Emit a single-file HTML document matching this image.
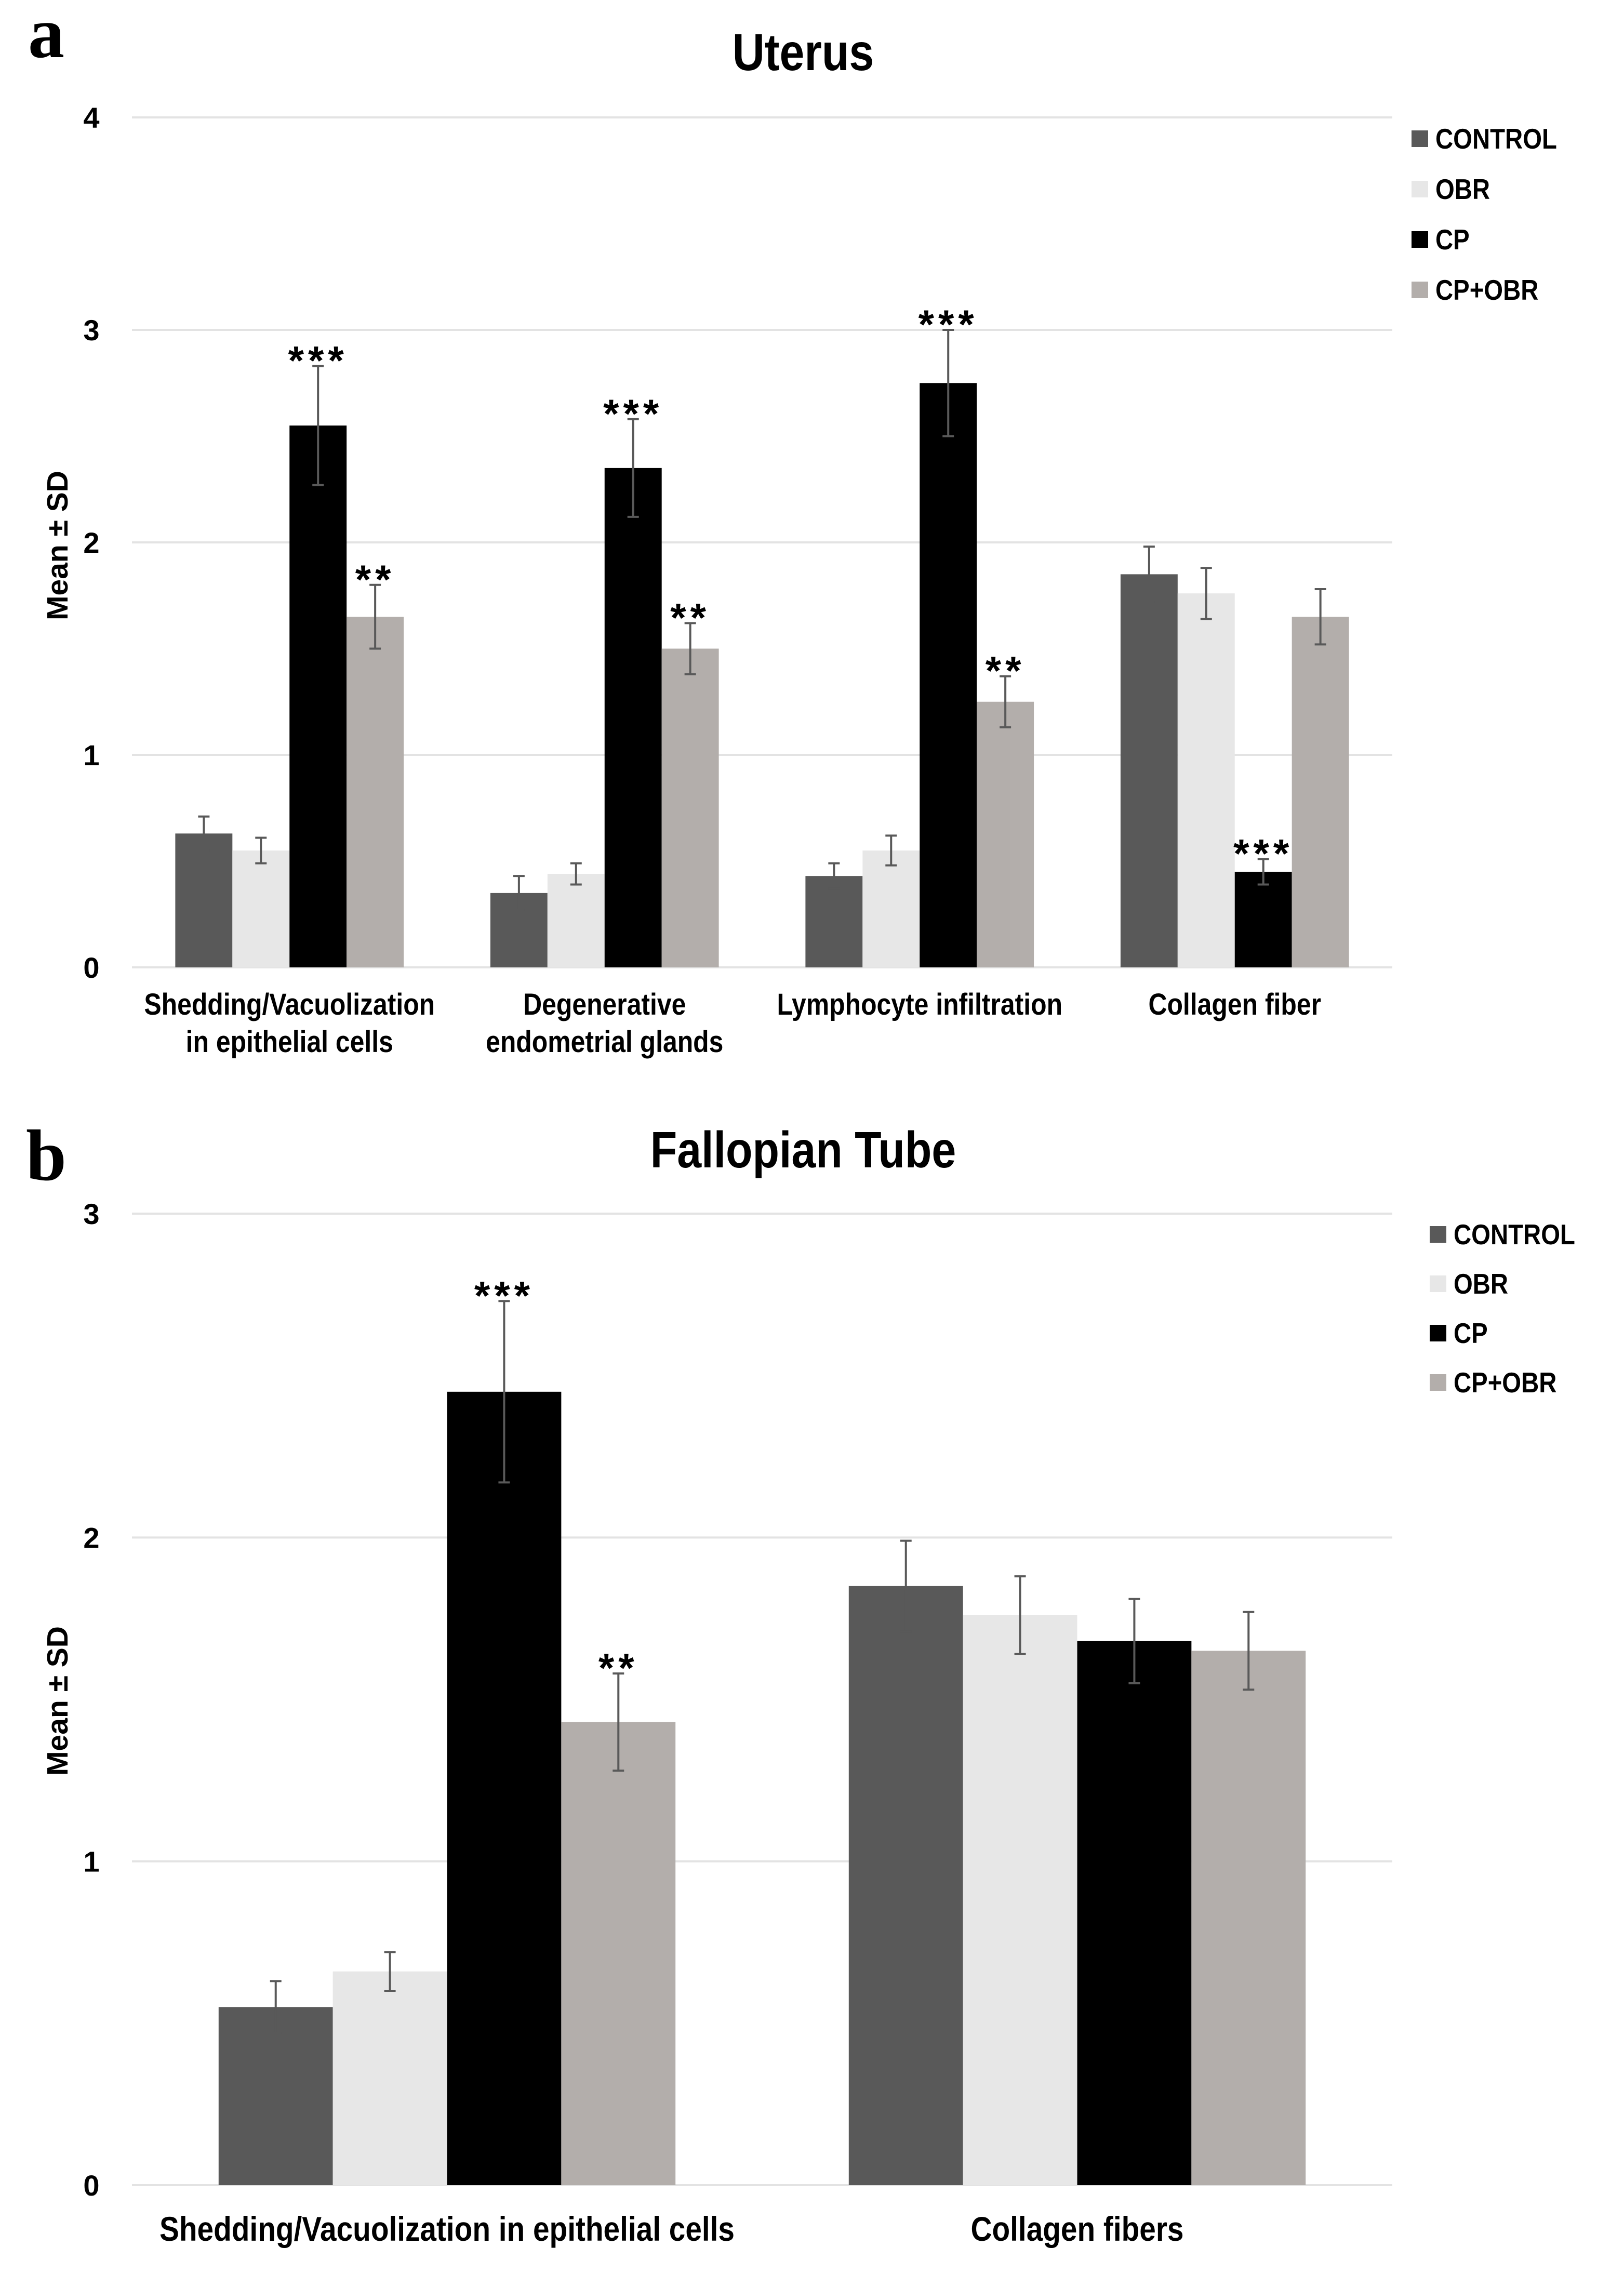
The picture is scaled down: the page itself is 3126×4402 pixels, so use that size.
<!DOCTYPE html>
<html><head><meta charset="utf-8"><style>
html,body{margin:0;padding:0;background:#fff;}
svg{display:block;}
text{font-family:"Liberation Sans",sans-serif;font-weight:bold;fill:#000;}
</style></head><body>
<svg id="fig" width="3126" height="4402" viewBox="0 0 3126 4402" xmlns="http://www.w3.org/2000/svg">
<text x="54" y="110" style="font-family:'Liberation Serif',serif;font-size:140px">a</text>
<text x="50" y="2271" style="font-family:'Liberation Serif',serif;font-size:140px">b</text>
</svg>
<script>
const seriesNames = ["CONTROL","OBR","CP","CP+OBR"];
const seriesColors = ["#595959","#e7e7e7","#000000","#b3aeab"];

const uterusCategories = [["Shedding/Vacuolization","in epithelial cells"],["Degenerative","endometrial glands"],["Lymphocyte infiltration"],["Collagen fiber"]];
const uterusControl = [0.63,0.35,0.43,1.85];
const uterusOBR = [0.55,0.44,0.55,1.76];
const uterusCP = [2.55,2.35,2.75,0.45];
const uterusCPOBR = [1.65,1.50,1.25,1.65];
const uterusControlSD = [0.08,0.08,0.06,0.13];
const uterusOBRSD = [0.06,0.05,0.07,0.12];
const uterusCPSD = [0.28,0.23,0.25,0.06];
const uterusCPOBRSD = [0.15,0.12,0.12,0.13];
const uterusStarsCP = ["***","***","***","***"];
const uterusStarsCPOBR = ["**","**","**",""];
const uterusTicks = [0,1,2,3,4];

const tubeCategories = [["Shedding/Vacuolization in epithelial cells"],["Collagen fibers"]];
const tubeControl = [0.55,1.85];
const tubeOBR = [0.66,1.76];
const tubeCP = [2.45,1.68];
const tubeCPOBR = [1.43,1.65];
const tubeControlSD = [0.08,0.14];
const tubeOBRSD = [0.06,0.12];
const tubeCPSD = [0.28,0.13];
const tubeCPOBRSD = [0.15,0.12];
const tubeStarsCP = ["***",""];
const tubeStarsCPOBR = ["**",""];
const tubeTicks = [0,1,2,3];

const NS="http://www.w3.org/2000/svg";
const svg=document.getElementById('fig');
const COND=0.86;
function mk(tag,attrs,parent){const e=document.createElementNS(NS,tag);for(const k in attrs)e.setAttribute(k,attrs[k]);(parent||svg).appendChild(e);return e;}
function txt(s,attrs,parent,cond){const e=mk('text',attrs,parent);e.textContent=s;if(cond!==false){const w=e.getComputedTextLength();if(w>0){e.setAttribute('textLength',(w*COND).toFixed(1));e.setAttribute('lengthAdjust','spacingAndGlyphs');}}return e;}

function drawChart(cfg){
  const g=mk('g',{});
  
  
  const x0=254,x1=2680;
  const yMax=cfg.ticks[cfg.ticks.length-1];
  const yScale=v=>cfg.yBottom-(v/yMax)*(cfg.yBottom-cfg.yTop);
  const band=(x1-x0)/cfg.categories.length;
  const barW=band*0.725/4;
  const xBar=(c,s)=>x0+band*c+band*0.1375+barW*s;
  const t=txt(cfg.title,{x:1546,y:cfg.titleY,'text-anchor':'middle','font-size':cfg.titleFont},g);
  
  
  const yt=mk('text',{x:0,y:0,'text-anchor':'middle','font-size':57,transform:`translate(130,${cfg.yTitleY}) rotate(-90)`},g);
  yt.textContent="Mean ± SD";
  
  
  cfg.ticks.forEach(v=>{
    const y=yScale(v);
    const l=mk('line',{x1:x0,x2:x1,y1:y,y2:y,stroke:'#e3e3e3','stroke-width':4},g);
    
    
    const tl=txt(String(v),{x:176,y:y+20,'text-anchor':'middle','font-size':56},g,false);
    
    
  });
  cfg.series.forEach((vals,s)=>{
    vals.forEach((v,c)=>{
      const x=xBar(c,s),y=yScale(v);
      const r=mk('rect',{x:x,y:y,width:barW,height:cfg.yBottom-y,fill:seriesColors[s]},g);
      
      
      const sd=cfg.sd[s][c];const cx=x+barW/2;
      const eg=mk('g',{stroke:'#595959','stroke-width':4},g);
      
      
      mk('line',{x1:cx,x2:cx,y1:yScale(v+sd),y2:yScale(v-sd)},eg);
      mk('line',{x1:cx-11,x2:cx+11,y1:yScale(v+sd),y2:yScale(v+sd)},eg);
      mk('line',{x1:cx-11,x2:cx+11,y1:yScale(v-sd),y2:yScale(v-sd)},eg);
      const st=cfg.stars[s]?cfg.stars[s][c]:"";
      if(st){
        const sEl=mk('text',{x:cx,y:yScale(v+sd)+16,'text-anchor':'middle','font-size':78,'letter-spacing':8},g);
        sEl.textContent=st;
        
        
      }
    });
  });
  cfg.categories.forEach((lines,c)=>{
    const cx=x0+band*(c+0.5);
    lines.forEach((ln,i)=>{
      const e=txt(ln,{x:cx,y:cfg.catY+i*72,'text-anchor':'middle','font-size':cfg.catFont},g);
      
      
    });
  });
  seriesNames.forEach((n,i)=>{
    const cy=cfg.legY+i*cfg.legStep;
    const r=mk('rect',{x:cfg.legX,y:cy-16,width:32,height:32,fill:seriesColors[i]},g);
    
    
    const e=txt(n,{x:cfg.legX+46,y:cy+19,'font-size':55},g);
    
    
  });
}

drawChart({name:'uterus-chart',title:'Uterus',titleY:135,titleFont:100,yTop:226,yBottom:1862,ticks:uterusTicks,
  categories:uterusCategories,series:[uterusControl,uterusOBR,uterusCP,uterusCPOBR],
  sd:[uterusControlSD,uterusOBRSD,uterusCPSD,uterusCPOBRSD],stars:[null,null,uterusStarsCP,uterusStarsCPOBR],
  catY:1953,catFont:58,legX:2717,legY:267,legStep:97,yTitleY:1050});
drawChart({name:'fallopian-tube-chart',title:'Fallopian Tube',titleY:2247,titleFont:98,yTop:2336,yBottom:4206,ticks:tubeTicks,
  categories:tubeCategories,series:[tubeControl,tubeOBR,tubeCP,tubeCPOBR],
  sd:[tubeControlSD,tubeOBRSD,tubeCPSD,tubeCPOBRSD],stars:[null,null,tubeStarsCP,tubeStarsCPOBR],
  catY:4313,catFont:66,legX:2752,legY:2376,legStep:95,yTitleY:3274});
</script>
</body></html>
